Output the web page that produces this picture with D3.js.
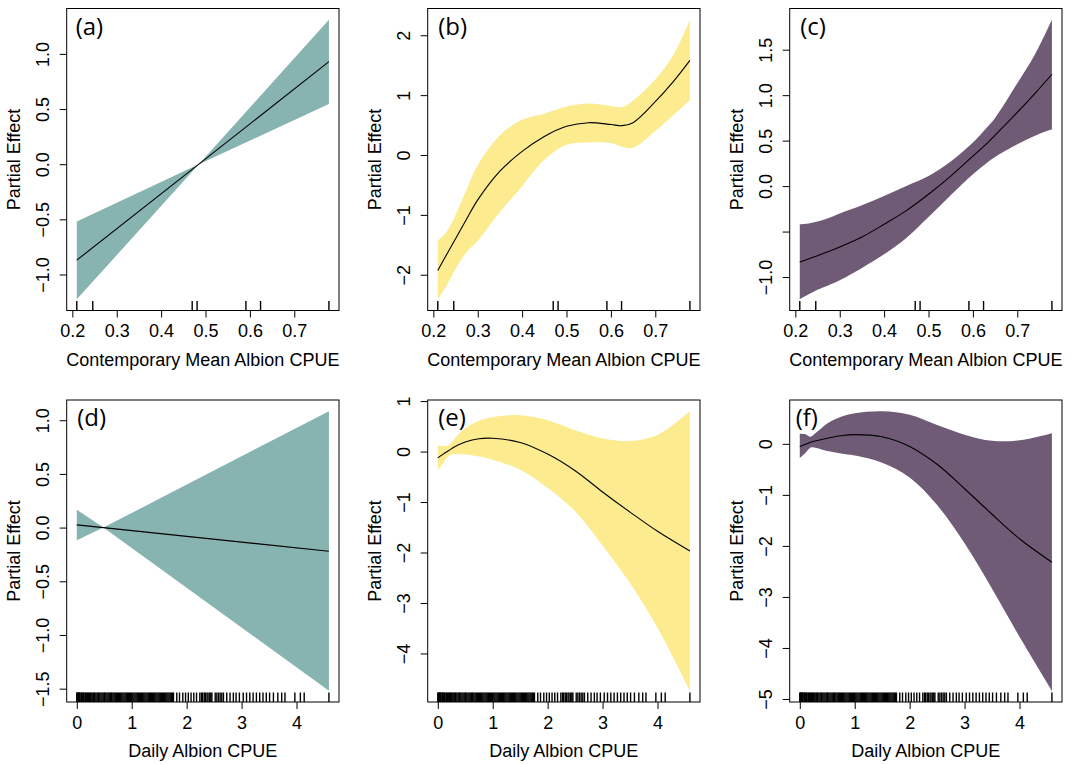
<!DOCTYPE html>
<html>
<head>
<meta charset="utf-8">
<script src="https://cdn.jsdelivr.net/npm/d3@7"></script>
<style>
  body { margin: 0; background: #fff; }
  text { font-family: "Liberation Sans", Arial, sans-serif; fill: #000; }
  .plab { font-family: "Open Sans", sans-serif; }
</style>
</head>
<body>
<div id="chart"></div>
<script>
// ---- data ----
const topX    = [0.21, 0.23, 0.25, 0.275, 0.3, 0.35, 0.4, 0.45, 0.5, 0.55, 0.6, 0.625, 0.65, 0.7, 0.74, 0.778];
const bottomX = [0, 0.1, 0.2, 0.3, 0.5, 0.75, 1, 1.5, 2, 2.5, 3, 3.5, 4, 4.59];

// (a) linear term - fit, upper & lower at the ends and the pivot
const aX     = [0.21, 0.485, 0.778];
const aFit   = [-0.87, 0.0, 0.93];
const aUpper = [-0.52, 0.0, 1.31];
const aLower = [-1.225, 0.0, 0.545];

const bFit   = [-1.93, -1.66, -1.40, -1.07, -0.75, -0.27, 0.06, 0.31, 0.48, 0.54, 0.51, 0.49, 0.54, 0.89, 1.22, 1.58];
const bUpper = [-1.43, -1.28, -1.00, -0.57, -0.17, 0.33, 0.59, 0.69, 0.81, 0.86, 0.82, 0.80, 0.91, 1.26, 1.66, 2.26];
const bLower = [-2.41, -2.18, -1.90, -1.62, -1.43, -0.95, -0.52, -0.08, 0.17, 0.21, 0.20, 0.14, 0.12, 0.40, 0.66, 0.92];

const cFit   = [-0.835, -0.80, -0.765, -0.72, -0.67, -0.56, -0.42, -0.27, -0.09, 0.11, 0.33, 0.44, 0.56, 0.81, 1.02, 1.23];
const cUpper = [-0.42, -0.41, -0.39, -0.35, -0.30, -0.21, -0.11, 0.0, 0.11, 0.27, 0.48, 0.61, 0.75, 1.13, 1.45, 1.83];
const cLower = [-1.245, -1.19, -1.14, -1.09, -1.035, -0.90, -0.75, -0.57, -0.34, -0.10, 0.13, 0.23, 0.32, 0.46, 0.555, 0.625];

const dX     = [0, 0.485, 4.59];
const dFit   = [0.025, 0.0, -0.22];
const dUpper = [0.165, 0.0, 1.084];
const dLower = [-0.118, 0.0, -1.52];

const eFit   = [-0.125, -0.05, 0.02, 0.09, 0.19, 0.255, 0.263, 0.18, -0.05, -0.38, -0.80, -1.20, -1.58, -1.97];
const eUpper = [0.12, 0.11, 0.13, 0.25, 0.46, 0.61, 0.68, 0.72, 0.62, 0.42, 0.26, 0.21, 0.33, 0.80];
const eLower = [-0.37, -0.22, -0.09, -0.05, -0.06, -0.10, -0.16, -0.36, -0.72, -1.18, -1.86, -2.61, -3.49, -4.74];

const fFit   = [-0.05, -0.01, 0.03, 0.06, 0.11, 0.16, 0.18, 0.14, -0.05, -0.40, -0.88, -1.38, -1.86, -2.32];
const fUpper = [0.20, 0.19, 0.14, 0.22, 0.40, 0.53, 0.60, 0.64, 0.57, 0.37, 0.18, 0.06, 0.07, 0.21];
const fLower = [-0.28, -0.18, -0.07, -0.08, -0.14, -0.19, -0.23, -0.37, -0.66, -1.20, -1.95, -2.84, -3.78, -4.84];

const topRug = [0.21, 0.246, 0.47, 0.481, 0.591, 0.624, 0.778];
const bottomRug = [0, 0.01, 0.02, 0.03, 0.04, 0.05, 0.06, 0.08, 0.09, 0.1, 0.12, 0.13, 0.15, 0.16, 0.18, 0.2,
  0.21, 0.23, 0.25, 0.26, 0.28, 0.3, 0.32, 0.33, 0.35, 0.37, 0.39, 0.4, 0.42, 0.44, 0.46, 0.48, 0.5, 0.51,
  0.53, 0.55, 0.57, 0.59, 0.61, 0.63, 0.64, 0.66, 0.68, 0.7, 0.72, 0.74, 0.76, 0.78, 0.8, 0.82, 0.84, 0.86,
  0.88, 0.9, 0.92, 0.94, 0.96, 0.98, 1.0, 1.02, 1.04, 1.06, 1.08, 1.1, 1.12, 1.14, 1.16, 1.18, 1.2, 1.22,
  1.24, 1.26, 1.28, 1.3, 1.32, 1.34, 1.36, 1.38, 1.4, 1.42, 1.44, 1.46, 1.48, 1.5, 1.52, 1.54, 1.56, 1.58,
  1.6, 1.62, 1.64, 1.66, 1.68, 1.7, 1.72, 1.74,
  1.76, 1.82, 1.87, 1.93, 1.98, 2.03, 2.08, 2.13, 2.18, 2.24, 2.27, 2.29, 2.32, 2.34, 2.37, 2.39, 2.42,
  2.44, 2.46, 2.52, 2.55, 2.58, 2.61, 2.64, 2.67, 2.73, 2.79, 2.85, 2.9, 2.96, 3.03, 3.09, 3.15, 3.21,
  3.27, 3.33, 3.39, 3.45, 3.51, 3.58, 3.66, 3.73, 3.79, 3.97, 4.07, 4.14, 4.59];

const topTicks = [0.2, 0.3, 0.4, 0.5, 0.6, 0.7];
const bottomTicks = [0, 1, 2, 3, 4];
const aYTicks = [-1.0, -0.5, 0.0, 0.5, 1.0];
const bYTicks = [-2, -1, 0, 1, 2];
const cYTicks = [-1.0, -0.5, 0.0, 0.5, 1.0, 1.5];
const dYTicks = [-1.5, -1.0, -0.5, 0.0, 0.5, 1.0];
const eYTicks = [-4, -3, -2, -1, 0, 1];
const fYTicks = [-5, -4, -3, -2, -1, 0];

const topTitle = "Contemporary Mean Albion CPUE";
const bottomTitle = "Daily Albion CPUE";
const yTitle = "Partial Effect";

const teal = "#87b3b0", yellow = "#fdeb8f", purple = "#6f5b75";

const zip = (xs, f, u, l) => xs.map((x, i) => ({x: x, fit: f[i], hi: u[i], lo: l[i]}));

const panels = [
  {lab: "(a)", rows: zip(aX, aFit, aUpper, aLower), rug: topRug, xt: topTicks, xf: ".1f", yt: aYTicks, yf: ".1f", title: topTitle, col: teal, linear: true, left: 66.7, top: 8.5, labDx: 9},
  {lab: "(b)", rows: zip(topX, bFit, bUpper, bLower), rug: topRug, xt: topTicks, xf: ".1f", yt: bYTicks, yf: "d", title: topTitle, col: yellow, left: 427.7, top: 8.5, labDx: 10.5},
  {lab: "(c)", rows: zip(topX, cFit, cUpper, cLower), rug: topRug, xt: topTicks, xf: ".1f", yt: cYTicks, yf: ".1f", hide: [-0.5], title: topTitle, col: purple, left: 789.7, top: 8.5, labDx: 10.5},
  {lab: "(d)", rows: zip(dX, dFit, dUpper, dLower), rug: bottomRug, xt: bottomTicks, xf: "d", yt: dYTicks, yf: ".1f", title: bottomTitle, col: teal, linear: true, left: 66.7, top: 400, labDx: 10.5},
  {lab: "(e)", rows: zip(bottomX, eFit, eUpper, eLower), rug: bottomRug, xt: bottomTicks, xf: "d", yt: eYTicks, yf: "d", title: bottomTitle, col: yellow, left: 427.7, top: 400, labDx: 10.5},
  {lab: "(f)", rows: zip(bottomX, fFit, fUpper, fLower), rug: bottomRug, xt: bottomTicks, xf: "d", yt: fYTicks, yf: "d", title: bottomTitle, col: purple, left: 789.7, top: 400, labDx: 6}
];

const W = 1072, H = 764, pw = 272.3, ph = 302;

const svg = d3.select("#chart").append("svg")
  .attr("width", W).attr("height", H);
svg.append("rect").attr("width", W).attr("height", H).attr("fill", "#fff");

// R style: pad the data range by 4% on each side
const pad = ext => { const s = (ext[1] - ext[0]) * 0.04; return [ext[0] - s, ext[1] + s]; };
const minus = s => s.replace("-", "\u2212");

panels.forEach(p => {
  const L = p.left, T = p.top, R = L + pw, B = T + ph;
  const x = d3.scaleLinear().domain(pad(d3.extent(p.rows, d => d.x))).range([L, R]);
  const y = d3.scaleLinear()
    .domain(pad([d3.min(p.rows, d => d.lo), d3.max(p.rows, d => d.hi)]))
    .range([B, T]);
  const curve = p.linear ? d3.curveLinear : d3.curveCatmullRom.alpha(0.5);
  const g = svg.append("g");

  g.append("path").datum(p.rows)
    .attr("fill", p.col)
    .attr("d", d3.area().curve(curve).x(d => x(d.x)).y0(d => y(d.lo)).y1(d => y(d.hi)));

  g.append("path").datum(p.rows)
    .attr("fill", "none").attr("stroke", "#000").attr("stroke-width", 1.1)
    .attr("d", d3.line().curve(curve).x(d => x(d.x)).y(d => y(d.fit)));

  // rug
  g.selectAll(".rug").data(p.rug).join("line")
    .attr("x1", d => x(d)).attr("x2", d => x(d))
    .attr("y1", B).attr("y2", B - 9.5)
    .attr("stroke", "#000").attr("stroke-width", 1.4);

  const xfmt = d3.format(p.xf), yfmt = d3.format(p.yf);
  const xAxis = g.append("g").attr("transform", `translate(0,${B})`)
    .call(d3.axisBottom(x).tickValues(p.xt).tickSize(7).tickPadding(7)
      .tickFormat(d => minus(xfmt(d))));
  const yAxis = g.append("g").attr("transform", `translate(${L},0)`)
    .call(d3.axisLeft(y).tickValues(p.yt).tickSize(7)
      .tickFormat(d => (p.hide && p.hide.includes(d)) ? "" : minus(yfmt(d))));
  [xAxis, yAxis].forEach(a => {
    a.attr("font-family", null).attr("font-size", null);
    a.select(".domain").remove();
    a.selectAll("line").attr("stroke", "#000");
    a.selectAll("text").style("font-size", "18px").attr("fill", "#000");
  });
  yAxis.selectAll("text")
    .attr("x", null).attr("dy", null)
    .attr("text-anchor", "middle")
    .attr("transform", "translate(-18,0) rotate(-90)");

  g.append("rect")
    .attr("x", L).attr("y", T).attr("width", pw).attr("height", ph)
    .attr("fill", "none").attr("stroke", "#000").attr("stroke-width", 1);

  g.append("text")
    .attr("x", (L + R) / 2).attr("y", B + 55)
    .attr("text-anchor", "middle").style("font-size", "18px")
    .text(p.title);
  g.append("text")
    .attr("transform", `translate(${L - 47},${(T + B) / 2}) rotate(-90)`)
    .attr("text-anchor", "middle").style("font-size", "18px")
    .text(yTitle);
  g.append("text").attr("class", "plab")
    .attr("x", L + p.labDx).attr("y", T + 26)
    .style("font-size", "24px")
    .text(p.lab);
});
</script>
</body>
</html>
